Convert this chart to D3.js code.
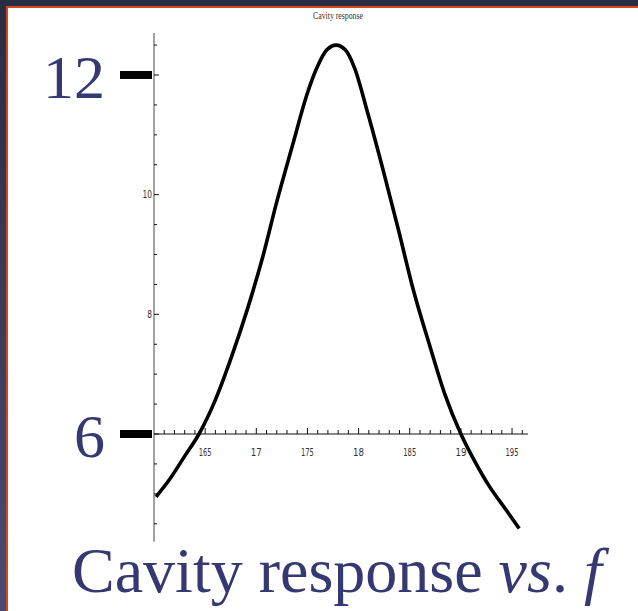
<!DOCTYPE html>
<html>
<head>
<meta charset="utf-8">
<script src="https://cdn.jsdelivr.net/npm/d3@7/dist/d3.min.js"></script>
<style>
  html, body { margin: 0; padding: 0; background: #2b2d45; }
  svg { display: block; }
</style>
</head>
<body>
<svg id="chart" width="638" height="611"></svg>
<script>
// Cavity response curve: frequency vs. response
const freq = [16.02, 16.16, 16.30, 16.44, 16.60, 16.76, 16.91, 17.06, 17.20, 17.35, 17.50, 17.60, 17.69, 17.78,
              17.87, 17.96, 18.09, 18.24, 18.39, 18.53, 18.70, 18.84, 19.00, 19.14, 19.28, 19.43, 19.57];
const response = [4.95, 5.26, 5.63, 6.00, 6.57, 7.30, 8.07, 8.94, 9.88, 10.80, 11.70, 12.15, 12.42, 12.50,
                  12.42, 12.12, 11.36, 10.41, 9.41, 8.44, 7.45, 6.68, 6.00, 5.53, 5.12, 4.76, 4.42];

const xTickLabels = [16.5, 17, 17.5, 18, 18.5, 19, 19.5];
const yTickLabels = [8, 10];
const bigYLabels = [12, 6];

const svg = d3.select("#chart");
const W = 638, H = 611;

// slide frame
const grad = svg.append("defs").append("linearGradient")
  .attr("id", "frameGrad").attr("x1", 0).attr("y1", 0).attr("x2", 0).attr("y2", 1);
grad.append("stop").attr("offset", "0%").attr("stop-color", "#2a2c43");
grad.append("stop").attr("offset", "100%").attr("stop-color", "#4a4b72");
svg.append("rect").attr("width", W).attr("height", H).attr("fill", "url(#frameGrad)");
svg.append("rect").attr("x", 6).attr("y", 6).attr("width", W - 6).attr("height", H - 6).attr("fill", "#d4471b");
svg.append("rect").attr("x", 8).attr("y", 8).attr("width", W - 8).attr("height", H - 8).attr("fill", "#ffffff");

// scales: origin at f = 16, response = 6
const x = d3.scaleLinear().domain([16, 19.656]).range([154, 528]);
const y = d3.scaleLinear().domain([6, 12]).range([434, 75]);

// y axis line
svg.append("line")
  .attr("x1", x(16)).attr("x2", x(16))
  .attr("y1", y(12.7)).attr("y2", y(4.2))
  .attr("stroke", "#666").attr("stroke-width", 1.2);

// y minor/major ticks
const yTicks = d3.range(4.5, 12.51, 0.5);
svg.append("g").selectAll("line").data(yTicks).join("line")
  .attr("x1", x(16)).attr("x2", d => x(16) + (d % 2 === 0 ? 5 : 3))
  .attr("y1", d => y(d)).attr("y2", d => y(d))
  .attr("stroke", "#111").attr("stroke-width", 1);

svg.append("g").selectAll("text").data(yTickLabels).join("text")
  .attr("x", x(16) - 2).attr("y", d => y(d) + 3.5)
  .attr("text-anchor", "end")
  .style("font-family", "'DejaVu Sans', sans-serif").attr("font-size", 10)
  .attr("fill", "#333")
  .attr("textLength", d => String(d).length * 4.8)
  .attr("lengthAdjust", "spacingAndGlyphs")
  .text(d => d);

// x axis line
svg.append("line")
  .attr("x1", x(16)).attr("x2", x(19.656))
  .attr("y1", y(6)).attr("y2", y(6))
  .attr("stroke", "#111").attr("stroke-width", 1);

// x ticks every 0.1, longer at every 0.5
const xTicks = d3.range(16.1, 19.65, 0.1).map(v => Math.round(v * 10) / 10);
svg.append("g").selectAll("line").data(xTicks).join("line")
  .attr("x1", d => x(d)).attr("x2", d => x(d))
  .attr("y1", y(6)).attr("y2", d => y(6) - ((Math.round(d * 10) % 5 === 0) ? 6 : 4))
  .attr("stroke", "#111").attr("stroke-width", 1);

svg.append("g").selectAll("text").data(xTickLabels).join("text")
  .attr("x", d => x(d)).attr("y", y(6) + 22)
  .attr("text-anchor", "middle")
  .style("font-family", "'DejaVu Sans', sans-serif").attr("font-size", 10.5)
  .attr("fill", "#333")
  .attr("textLength", d => (Number.isInteger(d) ? 11 : 13))
  .attr("lengthAdjust", "spacingAndGlyphs")
  .text(d => String(d).replace(".", ""));

// small plot title
svg.append("text")
  .attr("x", 338).attr("y", 19)
  .attr("text-anchor", "middle")
  .style("font-family", "'Liberation Serif', serif").attr("font-size", 10.5)
  .attr("fill", "#333")
  .attr("textLength", 50).attr("lengthAdjust", "spacingAndGlyphs")
  .text("Cavity response");

// response curve
const line = d3.line()
  .x((d, i) => x(freq[i]))
  .y(d => y(d))
  .curve(d3.curveMonotoneX);
svg.append("path")
  .datum(response)
  .attr("d", line)
  .attr("fill", "none")
  .attr("stroke", "#000")
  .attr("stroke-width", 3.6)
  .attr("stroke-linecap", "butt")
  .attr("stroke-linejoin", "round");

// heavy tick bars with large labels
const labelColor = "#363872";
svg.append("g").selectAll("rect").data(bigYLabels).join("rect")
  .attr("x", 120).attr("y", d => y(d) - 4)
  .attr("width", 32).attr("height", 8)
  .attr("fill", "#000");

svg.append("g").selectAll("text").data(bigYLabels).join("text")
  .attr("x", 105).attr("y", d => y(d) + 23)
  .attr("text-anchor", "end")
  .style("font-family", "'Liberation Serif', serif").attr("font-size", 62)
  .attr("fill", labelColor)
  .text(d => d);

// slide heading
const heading = svg.append("text")
  .attr("x", 72).attr("y", 592)
  .style("font-family", "'Liberation Serif', serif").attr("font-size", 64)
  .attr("fill", labelColor);
heading.append("tspan").text("Cavity response ");
heading.append("tspan").attr("font-style", "italic").text("vs");
heading.append("tspan").text(". ");
heading.append("tspan").attr("font-style", "italic").text("f");
</script>
</body>
</html>
